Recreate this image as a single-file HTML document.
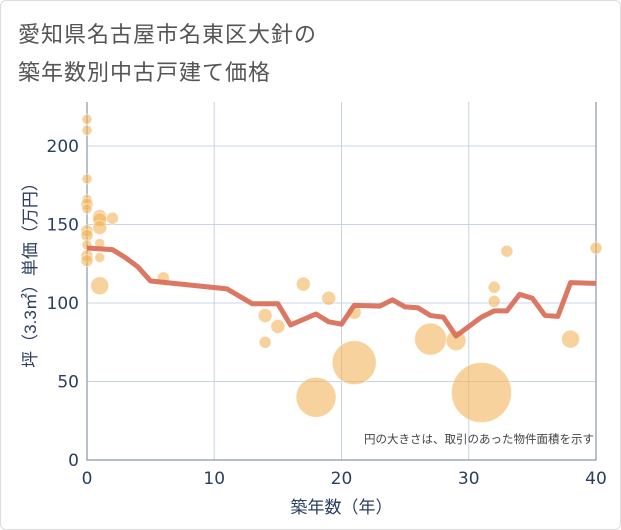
<!DOCTYPE html>
<html><head><meta charset="utf-8"><style>
body{margin:0;background:#fff;font-family:"Liberation Sans","Noto Sans CJK JP",sans-serif}
#wrap{position:relative;width:619px;height:528px;border:1px solid #ddd;border-radius:6px;overflow:hidden}
.t{position:absolute;left:17px;font-size:22px;color:#555;letter-spacing:1px}
</style></head><body>
<div id="wrap">
<div class="t" style="top:16px">愛知県名古屋市名東区大針の</div>
<div class="t" style="top:54px">築年数別中古戸建て価格</div>
<svg id="c" width="621" height="530" style="position:absolute;left:-1px;top:-1px"></svg>
</div>
<script>
const lineYears=[0,2,3,4,5,11,13,15,16,18,19,20,21,23,24,25,26,27,28,29,31,32,33,34,35,36,37,38,40];
const lineVals=[135,134,129,123,114,109,99.5,99.5,86,93,88,86.5,98.5,98,102,97.5,97,92,91,79,91,95,95,105.5,103,92,91.5,113,112.5];
const bubX=[0,0,0,0,0,0,0,0,0,0,0,1,1,1,1,1,2,1,6,14,14,15,17,19,21,18,21,27,29,31,32,32,33,38,40];
const bubY=[217,210,179,166,163,160,146,143,137,130,127,155,153,148,138,129,154,111,116,92,75,85,112,103,94,40,62,77,76,43,110,101,133,77,135];
const bubR=[5,5,5,5,6,5,6,6,5,6,6,7,7,7,5,5,6,9,6,7,6,7,7,7,7,20,22,16,10,30,6,6,6,9,6];
const xTicks=[0,10,20,30,40];
const yTicks=[0,50,100,150,200];
const L=87,R=596,T=102,B=460;
const X=v=>L+(v/40)*(R-L);
const Y=v=>B-v*1.57;
const s=document.getElementById('c');const NS='http://www.w3.org/2000/svg';
const TF='"DejaVu Sans","Noto Sans CJK JP",sans-serif';
function mk(t,a,p){const e=document.createElementNS(NS,t);for(const k in a)e.setAttribute(k,a[k]);(p||s).appendChild(e);return e;}
xTicks.forEach(v=>{
const g=mk('line',{x1:X(v),x2:X(v),y1:T,y2:B,stroke:'#c8d4e3','stroke-width':1});


const t=mk('text',{x:X(v),y:B+24,'text-anchor':'middle','font-size':17,fill:'#2a3f5f','font-family':TF});t.textContent=v;


});
yTicks.forEach(v=>{
const g=mk('line',{x1:L,x2:R,y1:Y(v),y2:Y(v),stroke:'#c8d4e3','stroke-width':1});


const t=mk('text',{x:L-8,y:Y(v)+6,'text-anchor':'end','font-size':17,fill:'#2a3f5f','font-family':TF});t.textContent=v;


});
const ax=mk('path',{d:`M${L},${T}V${B}H${R}V${T}`,fill:'none',stroke:'#8a96a6','stroke-width':1.2});


bubX.forEach((v,i)=>{
const c=mk('circle',{cx:X(v),cy:Y(bubY[i]),r:bubR[i],fill:'rgba(242,180,90,0.6)',stroke:'rgba(255,255,255,0.5)','stroke-width':1});


});
const ln=mk('polyline',{points:lineYears.map((v,i)=>X(v)+','+Y(lineVals[i])).join(' '),fill:'none',stroke:'#d9705a','stroke-width':5,'stroke-linejoin':'round','stroke-opacity':0.95});


const n=mk('text',{x:594,y:443,'text-anchor':'end','font-size':11.5,fill:'#444'});n.textContent='円の大きさは、取引のあった物件面積を示す';


const xt=mk('text',{x:(L+R)/2,y:513,'text-anchor':'middle','font-size':17,fill:'#2a3f5f'});xt.textContent='築年数（年）';


const yt=mk('text',{x:0,y:0,'text-anchor':'middle','font-size':17,fill:'#2a3f5f',transform:`translate(36,${(T+B)/2-10}) rotate(-90)`});yt.textContent='坪（3.3㎡）単価（万円）';


</script>
</body></html>
